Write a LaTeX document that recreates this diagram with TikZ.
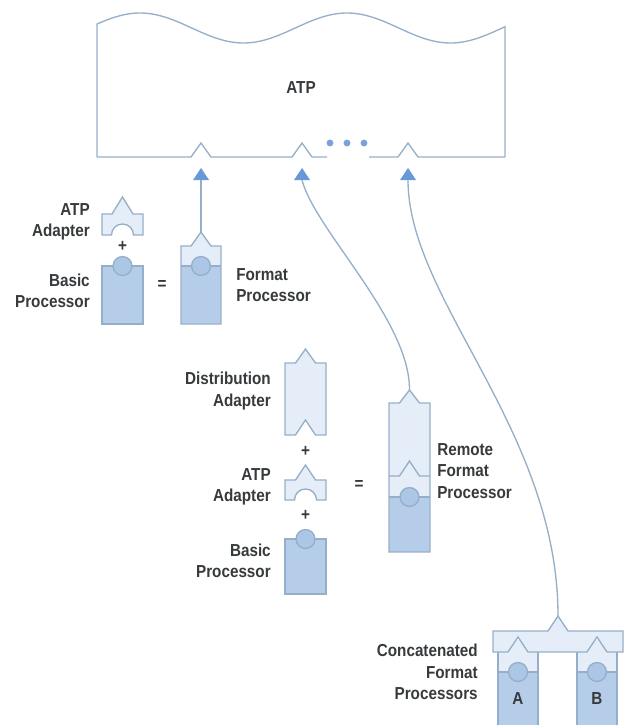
\documentclass[tikz,border=0pt]{standalone}
\usepackage{fontspec}
\newfontfamily\labfont[FakeStretch=0.88]{Liberation Sans}
\usetikzlibrary{arrows.meta}
\definecolor{edgec}{RGB}{150,175,200}
\definecolor{lightb}{RGB}{228,237,248}
\definecolor{darkb}{RGB}{182,205,233}
\definecolor{circb}{RGB}{172,198,230}
\definecolor{arrowc}{RGB}{104,152,214}
\definecolor{dotc}{RGB}{120,163,216}
\definecolor{txtc}{RGB}{55,58,60}
\begin{document}
\begin{tikzpicture}[x=0.75pt,y=-0.75pt,
  edgeline/.style={draw=edgec, line width=1pt, line join=miter},
  conn/.style={draw=edgec, line width=1pt},
  lightpart/.style={fill=lightb},
  darkpart/.style={fill=darkb},
  knob/.style={fill=circb, draw=edgec, line width=1pt},
  lab/.style={font=\labfont\bfseries\fontsize{13pt}{16pt}\selectfont, text=txtc, inner sep=0pt},
  rlab/.style={lab, align=right, anchor=east},
  llab/.style={lab, align=left, anchor=west},
  op/.style={lab, anchor=center},
  tip/.style={fill=arrowc}
]
\useasboundingbox (0,0) rectangle (626,725);

% ---------- ATP box ----------
\draw[edgeline] (97,157) -- plot[domain=97:505,samples=150] (\x,{28-15*cos(((\x-140)/207)*360)}) -- (505,157);
\draw[edgeline] (505,157) -- (418,157) -- (408,143) -- (398,157) -- (369,157);
\draw[edgeline] (327,157) -- (312,157) -- (302,143) -- (292,157) -- (211,157) -- (201,143) -- (191,157) -- (97,157);
\node[op] (atp) at (301,88) {ATP};
\fill[dotc] (330,143) circle (2.6pt);
\fill[dotc] (347,143) circle (2.6pt);
\fill[dotc] (364,143) circle (2.6pt);

% arrowheads (apex) and their bases
\coordinate (t1) at (201,168); \coordinate (b1) at (201,180);
\coordinate (t2) at (302,168); \coordinate (b2) at (302,180);
\coordinate (t3) at (408,168); \coordinate (b3) at (408,180);
\foreach \t in {t1,t2,t3} {\fill[tip] (\t) -- ++(8,12) -- ++(-16,0) -- cycle;}

% ---------- left column ----------
% ATP adapter
\draw[edgeline, lightpart] (102,214) -- (112,214) -- (122.5,197) -- (133,214) -- (143,214) -- (143,235)
  -- (133.5,235) arc[start angle=0, end angle=180, radius=8.25pt] -- (102,235) -- cycle;
\node[rlab] (la1) at (90,222) {ATP\\Adapter};
\node[op] (plus1) at (122.5,246) {+};
% basic processor
\draw[edgeline, darkpart] (102,266) rectangle (143,324);
\draw[knob] (122.5,266) circle (7.1pt);
\node[rlab] (lb1) at (90,291) {Basic\\Processor};
\node[op] (eq1) at (162,285) {=};
% format processor
\coordinate (fpk) at (201,232);
\fill[lightb] (181,246) -- (191,246) -- (fpk) -- (211,246) -- (221,246) -- (221,266) -- (181,266) -- cycle;
\fill[darkb] (181,266) rectangle (221,324);
\draw[edgeline] (181,266) -- (221,266);
\draw[knob] (201,266) circle (7.1pt);
\draw[edgeline] (181,324) -- (181,246) -- (191,246) -- (fpk) -- (211,246) -- (221,246) -- (221,324) -- cycle;
\node[llab] (lf1) at (236,285) {Format\\Processor};

% ---------- middle column ----------
% distribution adapter
\draw[edgeline, lightpart] (285,363) -- (295.5,363) -- (305.5,349) -- (315.5,363) -- (326,363) -- (326,435)
  -- (315.5,435) -- (305.5,420) -- (295.5,435) -- (285,435) -- cycle;
\node[rlab] (ld) at (271,391) {Distribution\\Adapter};
\node[op] (plus2) at (305.5,451) {+};
% ATP adapter
\draw[edgeline, lightpart] (285,480) -- (295.5,480) -- (305.5,465) -- (315.5,480) -- (326,480) -- (326,500)
  -- (316.5,500) arc[start angle=0, end angle=180, radius=8.25pt] -- (285,500) -- cycle;
\node[rlab] (la2) at (271,487) {ATP\\Adapter};
\node[op] (plus3) at (305.5,515) {+};
% basic processor
\draw[edgeline, darkpart] (285,539) rectangle (326,594);
\draw[knob] (305.5,539) circle (7.1pt);
\node[rlab] (lb2) at (271,561) {Basic\\Processor};
\node[op] (eq2) at (359,485) {=};
% remote format processor
\coordinate (rpk) at (409.5,390);
\fill[lightb] (389,403) -- (399.5,403) -- (rpk) -- (419.5,403) -- (430,403) -- (430,497) -- (389,497) -- cycle;
\fill[darkb] (389,497) rectangle (430,552);
\draw[edgeline] (389,476) -- (399.5,476) -- (409.5,461) -- (419.5,476) -- (430,476);
\draw[edgeline] (389,497) -- (430,497);
\draw[knob] (409.5,497) circle (7.1pt);
\draw[edgeline] (389,552) -- (389,403) -- (399.5,403) -- (rpk) -- (419.5,403) -- (430,403) -- (430,552) -- cycle;
\node[llab] (lr) at (437,471) {Remote\\Format\\Processor};

% ---------- concatenated ----------
\coordinate (cpk) at (558,616);
\fill[lightb] (498,640) rectangle (538,672);
\fill[darkb] (498,672) rectangle (538,725);
\fill[lightb] (577,640) rectangle (617,672);
\fill[darkb] (577,672) rectangle (617,725);
\draw[edgeline] (498,672) -- (538,672);
\draw[edgeline] (577,672) -- (617,672);
\draw[edgeline] (498,652) -- (498,726);
\draw[edgeline] (538,652) -- (538,726);
\draw[edgeline] (577,652) -- (577,726);
\draw[edgeline] (617,652) -- (617,726);
\draw[knob] (518,672) circle (7.1pt);
\draw[knob] (597,672) circle (7.1pt);
\draw[edgeline, lightpart] (493,652) -- (493,631) -- (548,631) -- (cpk) -- (568,631) -- (623,631) -- (623,652)
  -- (607,652) -- (597,637) -- (587,652) -- (528,652) -- (518,637) -- (508,652) -- cycle;
\node[op] (la) at (518,699) {A};
\node[op] (lbb) at (597,699) {B};
\node[rlab] (lc) at (478,672) {Concatenated\\Format\\Processors};

% ---------- connectors ----------
\draw[conn] (fpk) -- (b1);
\draw[conn] (rpk) .. controls (410,320) and (315,230) .. (b2);
\draw[conn] (cpk) .. controls (558,430) and (408,300) .. (b3);
\end{tikzpicture}
\end{document}
